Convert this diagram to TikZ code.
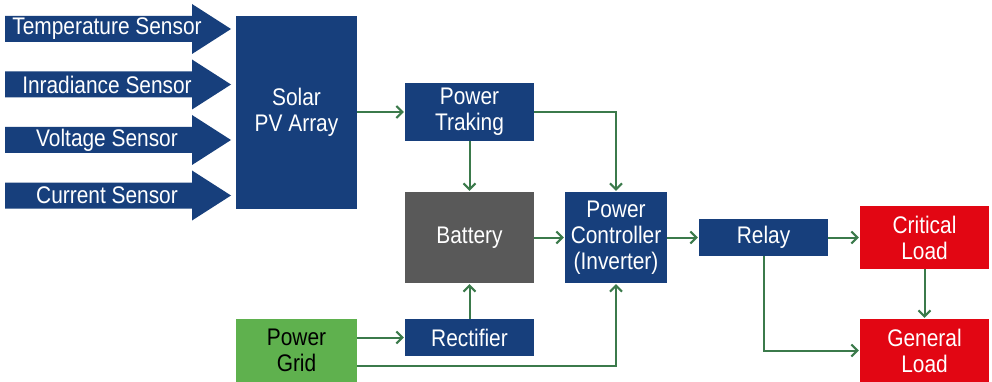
\documentclass[tikz,border=0pt]{standalone}
\usepackage{fontspec}
\setmainfont{Liberation Sans}[FakeStretch=0.87]
\usetikzlibrary{arrows.meta}
\definecolor{nblue}{HTML}{173F7C}
\definecolor{ngray}{HTML}{595959}
\definecolor{ngreen}{HTML}{5FB14E}
\definecolor{nred}{HTML}{E20613}
\definecolor{lgreen}{HTML}{3B7A4B}
\tikzset{
  box/.style={inner sep=0pt, align=center, font=\fontsize{24}{26}\selectfont, text=white},
  bluebox/.style={box, fill=nblue},
  conn/.style={draw=lgreen, line width=2pt, -{Straight Barb[length=6pt,width=12pt,line width=2pt]}, shorten >=1pt},
  sensorarrow/.style={fill=nblue},
  sensortext/.style={text=white, font=\fontsize{24}{26}\selectfont, inner sep=0pt}
}
\begin{document}
\begin{tikzpicture}[x=1pt,y=-1pt]
\useasboundingbox[fill=white] (0,0) rectangle (992,382);
% sensor arrows
\foreach \c/\t/\n in {29/Temperature Sensor/s1, 84.5/Inradiance Sensor/s2, 140/Voltage Sensor/s3, 195.5/Current Sensor/s4}{
  \fill[sensorarrow] (5,\c-13) -- (192,\c-13) -- (192,\c-25) -- (231,\c) -- (192,\c+25) -- (192,\c+13) -- (5,\c+13) -- cycle;
  \node[sensortext] (\n) at (107,\c) {\t};
}
% boxes
\node[bluebox, minimum width=121pt, minimum height=193pt] (solar) at (296.5,112.5) {Solar\\PV Array};
\node[bluebox, minimum width=129pt, minimum height=58pt] (trak) at (469.5,112) {Power\\Traking};
\node[box, fill=ngray, minimum width=129pt, minimum height=91pt] (batt) at (469.5,237.5) {Battery};
\node[bluebox, minimum width=102pt, minimum height=91pt] (ctrl) at (616,237.5) {Power\\Controller\\(Inverter)};
\node[bluebox, minimum width=129pt, minimum height=37pt] (relay) at (763.5,237.5) {Relay};
\node[box, fill=nred, minimum width=129pt, minimum height=63pt] (crit) at (924.5,237.5) {Critical\\Load};
\node[box, fill=nred, minimum width=129pt, minimum height=63pt] (gen) at (924.5,350.5) {General\\Load};
\node[box, fill=ngreen, text=black, minimum width=121pt, minimum height=63pt] (grid) at (296.5,350.5) {Power\\Grid};
\node[bluebox, minimum width=129pt, minimum height=37pt] (rect) at (469.5,337.5) {Rectifier};
\coordinate (gridlow) at (357,366);
% connectors
\draw[conn] (trak.west -| solar.east) -- (trak.west);
\draw[conn] (trak.south) -- (batt.north);
\draw[conn] (trak.east) -| (ctrl.north);
\draw[conn] (batt.east) -- (ctrl.west);
\draw[conn] (ctrl.east) -- (relay.west);
\draw[conn] (relay.east) -- (crit.west);
\draw[conn] (crit.south) -- (gen.north);
\draw[conn] (relay.south) |- (gen.west);
\draw[conn] (rect.west -| grid.east) -- (rect.west);
\draw[conn] (rect.north) -- (batt.south);
\draw[conn] (gridlow) -| (ctrl.south);
\end{tikzpicture}
\end{document}
